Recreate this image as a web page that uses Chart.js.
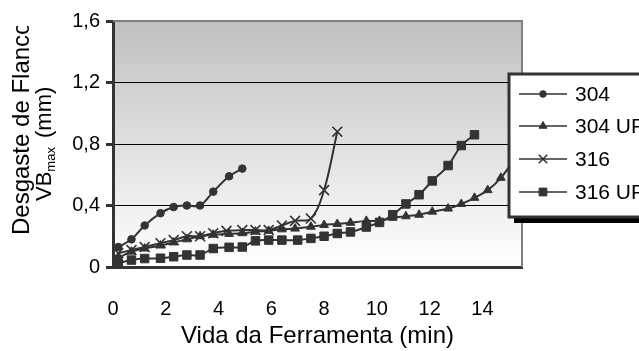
<!DOCTYPE html>
<html>
<head>
<meta charset="utf-8">
<script src="https://cdn.jsdelivr.net/npm/chart.js@4.4.1/dist/chart.umd.min.js"></script>
<style>
  html, body { margin: 0; padding: 0; background: #fff; }
  canvas { display: block; }
</style>
</head>
<body>
<canvas id="chart" width="639" height="351"></canvas>
<script>
// valores (desgaste VBmax em mm x vida em min)
const x304 = [0.2, 0.7, 1.2, 1.8, 2.3, 2.8, 3.3, 3.8, 4.4, 4.9];
const y304 = [0.13, 0.18, 0.27, 0.35, 0.39, 0.40, 0.40, 0.49, 0.59, 0.64];

const x304UF = [0.2, 0.7, 1.2, 1.8, 2.3, 2.8, 3.3, 3.8, 4.4, 4.9, 5.4, 5.9, 6.4, 6.9, 7.5, 8.0,
  8.5, 9.0, 9.6, 10.1, 10.6, 11.1, 11.6, 12.1, 12.7, 13.2, 13.7, 14.2, 14.7, 15.2, 15.7];
const y304UF = [0.06, 0.10, 0.12, 0.14, 0.16, 0.18, 0.20, 0.21, 0.215, 0.22, 0.23, 0.235, 0.245, 0.25, 0.262, 0.273,
  0.28, 0.288, 0.30, 0.30, 0.32, 0.33, 0.34, 0.36, 0.38, 0.41, 0.45, 0.50, 0.58, 0.70, 0.85];

const x316 = [0.2, 0.7, 1.2, 1.8, 2.3, 2.8, 3.3, 3.8, 4.3, 4.9, 5.4, 5.9, 6.4, 6.9, 7.5, 8.0, 8.5];
const y316 = [0.09, 0.11, 0.13, 0.155, 0.175, 0.20, 0.20, 0.22, 0.235, 0.24, 0.24, 0.24, 0.27, 0.30, 0.315, 0.50, 0.88];

const x316UF = [0.2, 0.7, 1.2, 1.8, 2.3, 2.8, 3.3, 3.8, 4.4, 4.9, 5.4, 5.9, 6.4, 7.0, 7.5, 8.0,
  8.5, 9.0, 9.6, 10.1, 10.6, 11.1, 11.6, 12.1, 12.7, 13.2, 13.7];
const y316UF = [0.025, 0.045, 0.055, 0.057, 0.067, 0.078, 0.078, 0.12, 0.128, 0.13, 0.17, 0.175, 0.175, 0.175, 0.186, 0.20,
  0.218, 0.228, 0.26, 0.29, 0.34, 0.41, 0.47, 0.56, 0.66, 0.79, 0.86];

const seriesNames = ['304', '304 UF', '316', '316 UF'];
const xTicks = [0, 2, 4, 6, 8, 10, 12, 14];
const yTickLabels = ['0', '0,4', '0,8', '1,2', '1,6'];

const X_TITLE = 'Vida da Ferramenta (min)';
const Y_TITLE_1 = 'Desgaste de Flanco';

const FONT = '"Liberation Sans", Arial, sans-serif';
const INK = '#333333';

function pts(xs, ys) {
  return xs.map((x, i) => ({ x, y: ys[i] }));
}

const styles = [
  { pointStyle: 'circle', radius: 3.8, borderWidth: 1 },
  { pointStyle: 'triangle', radius: 5, borderWidth: 1 },
  { pointStyle: 'crossRot', radius: 7, borderWidth: 1.6 },
  { pointStyle: 'rect', radius: 6, borderWidth: 1 },
];

const datasets = [
  pts(x304, y304), pts(x304UF, y304UF), pts(x316, y316), pts(x316UF, y316UF),
].map((data, i) => ({
  label: seriesNames[i],
  data,
  order: 3 - i,
  borderColor: INK,
  backgroundColor: INK,
  borderWidth: 2,
  tension: 0.35,
  pointStyle: styles[i].pointStyle,
  pointRadius: styles[i].radius,
  pointBorderWidth: styles[i].borderWidth,
  pointBackgroundColor: INK,
  pointBorderColor: INK,
}));

// fundo em degradê e borda cinza superior/direita
const plotFrame = {
  id: 'plotFrame',
  beforeDraw(chart) {
    const { ctx, chartArea: a } = chart;
    const g = ctx.createLinearGradient(0, a.top, 0, a.bottom);
    g.addColorStop(0, '#c0c0c0');
    g.addColorStop(1, '#ffffff');
    ctx.save();
    ctx.fillStyle = g;
    ctx.fillRect(a.left, a.top, a.right - a.left, a.bottom - a.top);
    ctx.restore();
  },
  afterDatasetsDraw(chart) {
    const { ctx, chartArea: a } = chart;
    ctx.save();
    ctx.strokeStyle = '#808080';
    ctx.lineWidth = 2;
    ctx.beginPath();
    ctx.moveTo(a.left, a.top);
    ctx.lineTo(a.right, a.top);
    ctx.lineTo(a.right, a.bottom);
    ctx.stroke();
    ctx.restore();
  },
};

// título do eixo Y em duas linhas, com subscrito
const yTitle = {
  id: 'yTitle',
  afterDraw(chart) {
    const { ctx } = chart;
    ctx.save();
    ctx.beginPath();
    ctx.rect(0, 26, 100, 330);
    ctx.clip();
    ctx.fillStyle = '#000';
    ctx.textAlign = 'left';
    ctx.textBaseline = 'alphabetic';

    ctx.save();
    ctx.translate(29, 235);
    ctx.rotate(-Math.PI / 2);
    ctx.font = '24px ' + FONT;
    ctx.fillText(Y_TITLE_1, 0, 0);
    ctx.restore();

    ctx.save();
    ctx.translate(51, 201);
    ctx.rotate(-Math.PI / 2);
    ctx.font = '22px ' + FONT;
    ctx.fillText('VB', 0, 0);
    let w = ctx.measureText('VB').width;
    ctx.font = '13px ' + FONT;
    ctx.fillText('max', w, 4);
    w += ctx.measureText('max').width + 3;
    ctx.font = '22px ' + FONT;
    ctx.fillText(' (mm)', w, 0);
    ctx.restore();

    ctx.restore();
  },
};

// legenda com sombra, sobreposta à área do gráfico
const boxLegend = {
  id: 'boxLegend',
  afterDraw(chart) {
    const { ctx } = chart;
    const left = 509, top = 74, bottom = 217, right = 660;
    ctx.save();
    ctx.fillStyle = '#000';
    ctx.fillRect(left + 5, top + 5, right - left, bottom - top + 1);
    ctx.fillStyle = '#fff';
    ctx.fillRect(left, top, right - left, bottom - top);
    ctx.strokeStyle = INK;
    ctx.lineWidth = 3;
    ctx.strokeRect(left, top, right - left, bottom - top);

    const rows = [94, 126, 159, 192];
    ctx.font = '21px ' + FONT;
    ctx.textBaseline = 'middle';
    ctx.textAlign = 'left';
    seriesNames.forEach((name, i) => {
      const y = rows[i];
      ctx.strokeStyle = INK;
      ctx.lineWidth = 1.5;
      ctx.beginPath();
      ctx.moveTo(519, y);
      ctx.lineTo(567, y);
      ctx.stroke();
      ctx.fillStyle = INK;
      ctx.lineWidth = styles[i].borderWidth;
      Chart.helpers.drawPoint(ctx, {
        pointStyle: styles[i].pointStyle,
        radius: i === 2 ? 6 : styles[i].radius - 0.5,
        rotation: 0,
        borderWidth: styles[i].borderWidth,
      }, 543, y);
      ctx.fillStyle = '#000';
      ctx.fillText(name, 575, y + 1);
    });
    ctx.restore();
  },
};

new Chart(document.getElementById('chart'), {
  type: 'line',
  data: { datasets },
  plugins: [plotFrame, yTitle, boxLegend],
  options: {
    responsive: false,
    animation: false,
    layout: { padding: { top: 21, right: 117, left: 0, bottom: 0 } },
    plugins: {
      legend: { display: false },
      tooltip: { enabled: false },
    },
    scales: {
      x: {
        type: 'linear',
        min: 0,
        max: 15.5,
        afterFit(scale) { scale.height = 84; },
        afterBuildTicks(scale) {
          scale.ticks = xTicks.map((v) => ({ value: v }));
        },
        grid: { display: false },
        border: { display: true, color: INK, width: 3 },
        ticks: {
          color: '#000',
          font: { family: FONT, size: 20 },
          padding: 22,
          maxRotation: 0,
          callback: (v) => String(v),
        },
        title: {
          display: true,
          text: X_TITLE,
          color: '#000',
          font: { family: FONT, size: 24 },
          padding: { top: 0, bottom: 0 },
        },
      },
      y: {
        type: 'linear',
        min: 0,
        max: 1.6,
        afterFit(scale) { scale.width = 113; },
        afterBuildTicks(scale) {
          scale.ticks = yTickLabels.map((_, i) => ({ value: i * 0.4 }));
        },
        grid: {
          color: (c) => (c.index === 0 || c.index === yTickLabels.length - 1 ? 'rgba(0,0,0,0)' : '#000'),
          lineWidth: 1,
          tickColor: INK,
          tickWidth: 3,
          tickLength: 7,
        },
        border: { display: true, color: INK, width: 3 },
        ticks: {
          color: '#000',
          font: { family: FONT, size: 20 },
          padding: 6,
          callback: (v, i) => yTickLabels[i],
        },
      },
    },
  },
});
</script>
</body>
</html>
